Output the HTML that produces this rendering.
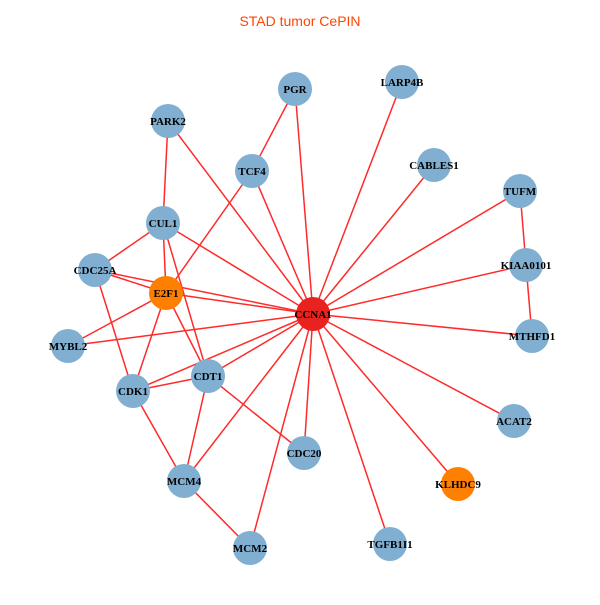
<!DOCTYPE html>
<html><head><meta charset="utf-8"><style>
html,body{margin:0;padding:0;background:#fff;}
</style></head><body>
<svg width="600" height="600" viewBox="0 0 600 600" xmlns="http://www.w3.org/2000/svg">
<text x="300" y="26" text-anchor="middle" font-family="Liberation Sans, sans-serif" font-size="14" fill="#ff4500">STAD tumor CePIN</text>
<g stroke="#ff2a2a" stroke-width="1.5">
<line x1="313" y1="314" x2="295" y2="89"/>
<line x1="313" y1="314" x2="402" y2="82"/>
<line x1="313" y1="314" x2="168" y2="121"/>
<line x1="313" y1="314" x2="252" y2="171"/>
<line x1="313" y1="314" x2="434" y2="165"/>
<line x1="313" y1="314" x2="520" y2="191"/>
<line x1="313" y1="314" x2="163" y2="223"/>
<line x1="313" y1="314" x2="526" y2="265"/>
<line x1="313" y1="314" x2="95" y2="270"/>
<line x1="313" y1="314" x2="166" y2="293"/>
<line x1="313" y1="314" x2="532" y2="336"/>
<line x1="313" y1="314" x2="68" y2="346"/>
<line x1="313" y1="314" x2="208" y2="376"/>
<line x1="313" y1="314" x2="133" y2="391"/>
<line x1="313" y1="314" x2="514" y2="421"/>
<line x1="313" y1="314" x2="304" y2="453"/>
<line x1="313" y1="314" x2="184" y2="481"/>
<line x1="313" y1="314" x2="458" y2="484"/>
<line x1="313" y1="314" x2="250" y2="548"/>
<line x1="313" y1="314" x2="390" y2="544"/>
<line x1="295" y1="89" x2="252" y2="171"/>
<line x1="252" y1="171" x2="166" y2="293"/>
<line x1="168" y1="121" x2="163" y2="223"/>
<line x1="163" y1="223" x2="95" y2="270"/>
<line x1="163" y1="223" x2="166" y2="293"/>
<line x1="163" y1="223" x2="208" y2="376"/>
<line x1="95" y1="270" x2="166" y2="293"/>
<line x1="95" y1="270" x2="133" y2="391"/>
<line x1="166" y1="293" x2="68" y2="346"/>
<line x1="166" y1="293" x2="133" y2="391"/>
<line x1="166" y1="293" x2="208" y2="376"/>
<line x1="133" y1="391" x2="208" y2="376"/>
<line x1="133" y1="391" x2="184" y2="481"/>
<line x1="208" y1="376" x2="184" y2="481"/>
<line x1="208" y1="376" x2="304" y2="453"/>
<line x1="184" y1="481" x2="250" y2="548"/>
<line x1="520" y1="191" x2="526" y2="265"/>
<line x1="526" y1="265" x2="532" y2="336"/>
</g>
<g fill="#80afd1">
<circle cx="295" cy="89" r="17"/><circle cx="402" cy="82" r="17"/><circle cx="168" cy="121" r="17"/>
<circle cx="252" cy="171" r="17"/><circle cx="434" cy="165" r="17"/><circle cx="520" cy="191" r="17"/>
<circle cx="163" cy="223" r="17"/><circle cx="526" cy="265" r="17"/><circle cx="95" cy="270" r="17"/>
<circle cx="532" cy="336" r="17"/><circle cx="68" cy="346" r="17"/><circle cx="208" cy="376" r="17"/>
<circle cx="133" cy="391" r="17"/><circle cx="514" cy="421" r="17"/><circle cx="304" cy="453" r="17"/>
<circle cx="184" cy="481" r="17"/><circle cx="250" cy="548" r="17"/><circle cx="390" cy="544" r="17"/>
</g>
<circle cx="166" cy="293" r="17" fill="#ff8000"/>
<circle cx="458" cy="484" r="17" fill="#ff8000"/>
<circle cx="313" cy="314" r="17" fill="#e8231f"/>
<g font-family="Liberation Serif, serif" font-weight="bold" font-size="11" text-anchor="middle" fill="#000">
<text x="295" y="93">PGR</text><text x="402" y="86">LARP4B</text><text x="168" y="125">PARK2</text>
<text x="252" y="175">TCF4</text><text x="434" y="169">CABLES1</text><text x="520" y="195">TUFM</text>
<text x="163" y="227">CUL1</text><text x="526" y="269">KIAA0101</text><text x="95" y="274">CDC25A</text>
<text x="166" y="297">E2F1</text><text x="313" y="318">CCNA1</text><text x="532" y="340">MTHFD1</text>
<text x="68" y="350">MYBL2</text><text x="208" y="380">CDT1</text><text x="133" y="395">CDK1</text>
<text x="514" y="425">ACAT2</text><text x="304" y="457">CDC20</text><text x="184" y="485">MCM4</text>
<text x="458" y="488">KLHDC9</text><text x="250" y="552">MCM2</text><text x="390" y="548">TGFB1I1</text>
</g>
</svg>
</body></html>
